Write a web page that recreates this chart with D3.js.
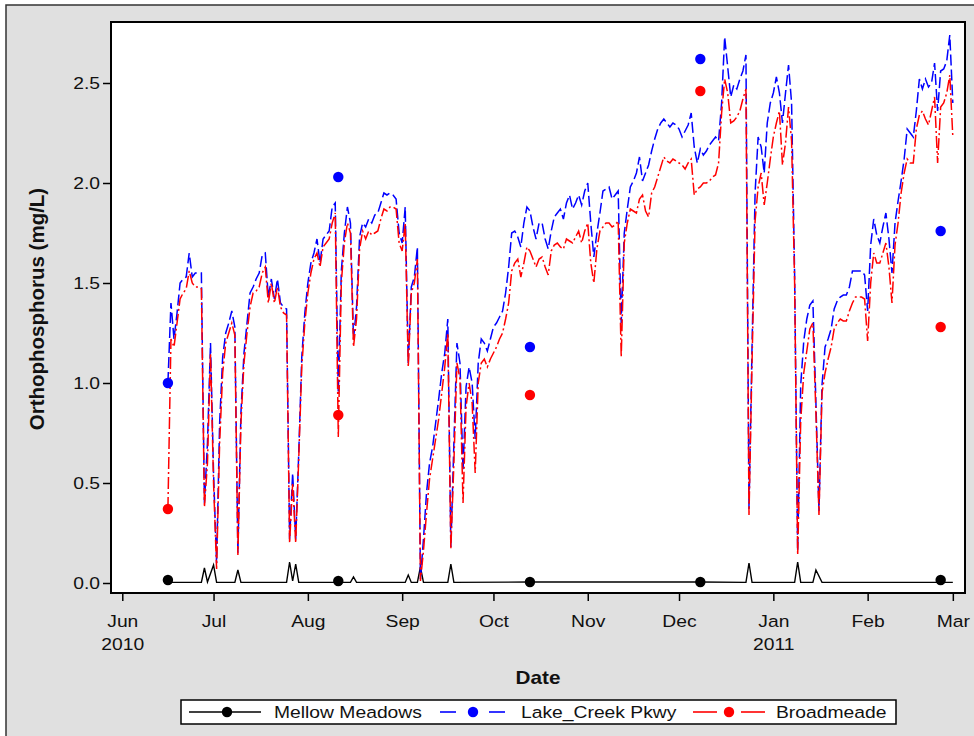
<!DOCTYPE html>
<html><head><meta charset="utf-8">
<script src="https://cdn.jsdelivr.net/npm/d3@7"></script>
<style>body{margin:0;background:#fff}svg{display:block}</style>
</head><body><svg id="c" width="974" height="736"></svg>
<script>
// ---------- DATA ----------
const dates = [
"2010-06-16","2010-06-17","2010-06-18","2010-06-19","2010-06-20","2010-06-21","2010-06-22","2010-06-23","2010-06-24","2010-06-25","2010-06-26","2010-06-27","2010-06-28","2010-06-29","2010-06-30",
"2010-07-01","2010-07-02","2010-07-03","2010-07-04","2010-07-05","2010-07-06","2010-07-07","2010-07-08","2010-07-09","2010-07-10","2010-07-11","2010-07-12","2010-07-13","2010-07-14","2010-07-15","2010-07-16","2010-07-17","2010-07-18","2010-07-19","2010-07-20","2010-07-21","2010-07-22","2010-07-23","2010-07-24","2010-07-25","2010-07-26","2010-07-27","2010-07-28","2010-07-29","2010-07-30","2010-07-31",
"2010-08-01","2010-08-02","2010-08-03","2010-08-04","2010-08-05","2010-08-06","2010-08-07","2010-08-08","2010-08-09","2010-08-10","2010-08-11","2010-08-12","2010-08-13","2010-08-14","2010-08-15","2010-08-16","2010-08-17","2010-08-18","2010-08-19","2010-08-20","2010-08-21","2010-08-22","2010-08-23","2010-08-24","2010-08-25","2010-08-26","2010-08-27","2010-08-28","2010-08-29","2010-08-30","2010-08-31",
"2010-09-01","2010-09-02","2010-09-03","2010-09-04","2010-09-05","2010-09-06","2010-09-07","2010-09-08","2010-09-09","2010-09-10","2010-09-11","2010-09-12","2010-09-13","2010-09-14","2010-09-15","2010-09-16","2010-09-17","2010-09-18","2010-09-19","2010-09-20","2010-09-21","2010-09-22","2010-09-23","2010-09-24","2010-09-25","2010-09-26","2010-09-27","2010-09-28","2010-09-29","2010-09-30",
"2010-10-01","2010-10-02","2010-10-03","2010-10-04","2010-10-05","2010-10-06","2010-10-07","2010-10-08","2010-10-09","2010-10-10","2010-10-11","2010-10-12","2010-10-13","2010-10-14","2010-10-15","2010-10-16","2010-10-17","2010-10-18","2010-10-19","2010-10-20","2010-10-21","2010-10-22","2010-10-23","2010-10-24","2010-10-25","2010-10-26","2010-10-27","2010-10-28","2010-10-29","2010-10-30","2010-10-31",
"2010-11-01","2010-11-02","2010-11-03","2010-11-04","2010-11-05","2010-11-06","2010-11-07","2010-11-08","2010-11-09","2010-11-10","2010-11-11","2010-11-12","2010-11-13","2010-11-14","2010-11-15","2010-11-16","2010-11-17","2010-11-18","2010-11-19","2010-11-20","2010-11-21","2010-11-22","2010-11-23","2010-11-24","2010-11-25","2010-11-26","2010-11-27","2010-11-28","2010-11-29","2010-11-30",
"2010-12-01","2010-12-02","2010-12-03","2010-12-04","2010-12-05","2010-12-06","2010-12-07","2010-12-08","2010-12-09","2010-12-10","2010-12-11","2010-12-12","2010-12-13","2010-12-14","2010-12-15","2010-12-16","2010-12-17","2010-12-18","2010-12-19","2010-12-20","2010-12-21","2010-12-22","2010-12-23","2010-12-24","2010-12-25","2010-12-26","2010-12-27","2010-12-28","2010-12-29","2010-12-30","2010-12-31",
"2011-01-01","2011-01-02","2011-01-03","2011-01-04","2011-01-05","2011-01-06","2011-01-07","2011-01-08","2011-01-09","2011-01-10","2011-01-11","2011-01-12","2011-01-13","2011-01-14","2011-01-15","2011-01-16","2011-01-17","2011-01-18","2011-01-19","2011-01-20","2011-01-21","2011-01-22","2011-01-23","2011-01-24","2011-01-25","2011-01-26","2011-01-27","2011-01-28","2011-01-29","2011-01-30","2011-01-31",
"2011-02-01","2011-02-02","2011-02-03","2011-02-04","2011-02-05","2011-02-06","2011-02-07","2011-02-08","2011-02-09","2011-02-10","2011-02-11","2011-02-12","2011-02-13","2011-02-14","2011-02-15","2011-02-16","2011-02-17","2011-02-18","2011-02-19","2011-02-20","2011-02-21","2011-02-22","2011-02-23","2011-02-24","2011-02-25","2011-02-26","2011-02-27","2011-02-28",
"2011-03-01"];

const lakeCreek = [
1.00,1.40,1.22,1.35,1.50,1.52,1.53,1.65,1.53,1.55,1.55,1.55,0.40,0.70,1.20,
0.55,0.10,0.80,1.13,1.25,1.30,1.36,1.28,0.15,0.85,1.15,1.30,1.45,1.48,1.52,1.55,1.64,1.65,1.43,1.52,1.42,1.52,1.40,1.38,1.37,0.22,0.55,0.22,0.65,1.13,1.35,
1.50,1.60,1.65,1.72,1.60,1.72,1.74,1.76,1.88,1.90,0.95,1.56,1.75,1.88,1.80,1.22,1.38,1.73,1.80,1.78,1.82,1.80,1.84,1.85,1.90,1.95,1.94,1.95,1.94,1.92,1.75,
1.70,1.88,1.10,1.48,1.53,1.68,0.02,0.22,0.45,0.60,0.68,0.80,0.92,1.05,1.15,1.32,0.18,0.70,1.20,1.10,0.56,0.98,1.08,1.00,0.72,1.10,1.22,1.20,1.16,1.22,
1.28,1.30,1.33,1.36,1.45,1.58,1.75,1.76,1.73,1.68,1.80,1.88,1.86,1.78,1.72,1.80,1.80,1.72,1.67,1.76,1.83,1.85,1.87,1.82,1.90,1.94,1.87,1.90,1.94,1.89,1.96,
2.00,1.80,1.63,1.75,1.85,1.96,1.97,1.98,1.92,1.94,1.96,1.30,1.75,1.87,1.98,2.01,2.05,2.13,2.01,2.05,2.09,2.16,2.22,2.27,2.30,2.32,2.30,2.28,2.30,2.29,
2.27,2.23,2.26,2.29,2.35,2.18,2.10,2.17,2.14,2.16,2.19,2.21,2.23,2.21,2.40,2.73,2.58,2.43,2.49,2.47,2.52,2.56,2.64,0.37,1.18,1.95,2.23,2.18,2.05,2.30,2.40,
2.45,2.53,2.45,2.30,2.45,2.59,2.40,1.54,0.16,0.99,1.21,1.32,1.39,1.41,0.90,0.36,0.99,1.18,1.22,1.27,1.37,1.41,1.43,1.44,1.44,1.48,1.56,1.56,1.56,1.56,1.54,
1.36,1.69,1.82,1.74,1.70,1.78,1.85,1.72,1.55,1.80,1.91,2.01,2.12,2.27,2.25,2.23,2.36,2.52,2.47,2.52,2.48,2.50,2.60,2.36,2.56,2.57,2.61,2.74,
2.40];

const broadmeade = [
0.37,1.22,1.18,1.30,1.42,1.45,1.47,1.56,1.50,1.48,1.48,1.47,0.38,0.60,1.15,
0.50,0.07,0.70,1.05,1.20,1.25,1.30,1.24,0.14,0.80,1.10,1.25,1.38,1.45,1.46,1.48,1.55,1.58,1.40,1.50,1.40,1.48,1.38,1.35,1.34,0.20,0.50,0.20,0.62,1.08,1.30,
1.45,1.55,1.62,1.65,1.58,1.68,1.70,1.72,1.80,1.85,0.73,1.50,1.70,1.80,1.75,1.18,1.32,1.67,1.76,1.72,1.76,1.74,1.75,1.76,1.82,1.87,1.86,1.88,1.88,1.87,1.70,
1.66,1.80,1.08,1.45,1.50,1.62,0.01,0.16,0.35,0.52,0.62,0.72,0.82,0.95,1.08,1.25,0.17,0.60,1.10,1.02,0.40,0.88,1.00,0.90,0.55,1.00,1.10,1.12,1.08,1.12,
1.15,1.18,1.22,1.25,1.32,1.40,1.56,1.60,1.62,1.53,1.60,1.68,1.66,1.62,1.58,1.62,1.63,1.58,1.54,1.66,1.69,1.70,1.68,1.67,1.72,1.71,1.70,1.73,1.76,1.70,1.76,
1.80,1.60,1.50,1.67,1.76,1.78,1.80,1.80,1.78,1.79,1.81,1.13,1.70,1.80,1.87,1.86,1.85,1.92,1.94,1.86,1.83,1.95,1.98,2.03,2.08,2.13,2.11,2.10,2.12,2.11,
2.10,2.09,2.07,2.10,2.12,1.94,1.97,1.98,2.00,2.00,2.01,2.03,2.04,2.10,2.35,2.52,2.45,2.30,2.31,2.33,2.36,2.42,2.47,0.34,1.10,1.81,1.98,2.05,1.89,2.00,2.12,
2.23,2.30,2.36,2.09,2.20,2.38,2.21,1.50,0.14,0.81,1.05,1.16,1.27,1.30,0.85,0.34,0.95,1.05,1.12,1.18,1.27,1.30,1.32,1.31,1.31,1.36,1.40,1.43,1.43,1.43,1.42,
1.21,1.50,1.65,1.60,1.60,1.65,1.70,1.58,1.40,1.69,1.80,1.95,2.05,2.12,2.10,2.10,2.27,2.34,2.36,2.32,2.29,2.36,2.43,2.10,2.38,2.40,2.45,2.54,
2.23];

const mellowDates = [
"2010-06-16","2010-06-17","2010-06-27","2010-06-28","2010-06-29","2010-07-01","2010-07-02",
"2010-07-08","2010-07-09","2010-07-10","2010-07-25","2010-07-26","2010-07-27","2010-07-28","2010-07-29",
"2010-08-10","2010-08-11","2010-08-12","2010-08-15","2010-08-16","2010-08-17",
"2010-09-02","2010-09-03","2010-09-04","2010-09-06","2010-09-07","2010-09-08","2010-09-16","2010-09-17","2010-09-18",
"2010-10-13","2010-12-08","2010-12-23","2010-12-24","2010-12-25",
"2011-01-08","2011-01-09","2011-01-10","2011-01-14","2011-01-15","2011-01-17",
"2011-02-24","2011-02-25","2011-02-26","2011-03-01"];
const mellow = [
0.015,0.003,0.003,0.075,0.005,0.09,0.003,
0.003,0.065,0.003,0.003,0.105,0.01,0.095,0.003,
0.003,0.01,0.003,0.003,0.03,0.003,
0.003,0.04,0.003,0.003,0.08,0.003,0.003,0.095,0.003,
0.005,0.005,0.003,0.10,0.003,
0.003,0.105,0.003,0.003,0.065,0.003,
0.003,0.015,0.003,0.003];

const sampleDates = ["2010-06-16","2010-08-11","2010-10-13","2010-12-08","2011-02-25"];
const sampleMellow = [0.015,0.01,0.005,0.005,0.015];
const sampleLake = [1.00,2.03,1.18,2.62,1.76];
const sampleBroad = [0.37,0.84,0.94,2.46,1.28];

const yTicks = [0,0.5,1.0,1.5,2.0,2.5];
const xTickDates = ["2010-06-01","2010-07-01","2010-08-01","2010-09-01","2010-10-01","2010-11-01","2010-12-01","2011-01-01","2011-02-01","2011-03-01"];
const xTickLabels = ["Jun","Jul","Aug","Sep","Oct","Nov","Dec","Jan","Feb","Mar"];
const xTickYears  = ["2010","","","","","","","2011","",""];
const seriesNames = ["Mellow Meadows","Lake_Creek Pkwy","Broadmeade"];
const seriesColors = ["#000000","#0000ff","#ff0000"];

// ---------- DRAW ----------
const W=974,H=736, SX=1.17;
const FONT='"Liberation Sans", Arial, Helvetica, sans-serif';
const L=111,R=965,T=22,B=593;
const parse=d3.timeParse("%Y-%m-%d");
const svg=d3.select("#c").attr("font-family",FONT);

const x=d3.scaleTime().domain([new Date(2010,4,28,7),new Date(2011,2,5,0)]).range([L,R]);
const y=d3.scaleLinear().domain([-0.05,2.805]).range([B,T]);

svg.append("rect").attr("width",W).attr("height",H).attr("fill","#fff");
svg.append("rect").attr("x",6).attr("y",5).attr("width",W+20).attr("height",H+20)
  .attr("fill","#e0e0e0").attr("stroke","#333").attr("stroke-width",1.5);
svg.append("rect").attr("x",L).attr("y",T).attr("width",R-L).attr("height",B-T).attr("fill","#fff");

function txt(g,px,py,s,o={}){
  const sx=o.sx||SX;
  return g.append("text")
    .attr("transform",`translate(${px},${py}) scale(${sx},1)`+(o.rot?` rotate(${o.rot})`:""))
    .attr("text-anchor",o.anchor||"start").attr("font-size",o.size||16.5)
    .attr("font-weight",o.weight||"normal").attr("fill",o.fill||"#111").text(s);
}

// axes
const gy=svg.append("g").attr("transform",`translate(${L},0)`)
  .call(d3.axisLeft(y).tickValues(yTicks).tickSize(8).tickFormat(d3.format(".1f")));
gy.select(".domain").remove();
gy.selectAll(".tick line").attr("stroke","#000").attr("stroke-width",1.5);
gy.selectAll(".tick text").attr("x",0).attr("dy","0.35em")
  .attr("transform",`translate(-11,0) scale(${SX},1)`).attr("font-size",16.5).attr("fill","#111").attr("font-family",FONT);

const gx=svg.append("g").attr("transform",`translate(0,${B})`)
  .call(d3.axisBottom(x).tickValues(xTickDates.map(parse)).tickSize(8).tickFormat((d,i)=>xTickLabels[i]));
gx.select(".domain").remove();
gx.selectAll(".tick line").attr("stroke","#000").attr("stroke-width",1.5);
gx.selectAll(".tick text").attr("y",0).attr("dy",null)
  .attr("transform",`translate(0,34) scale(${SX},1)`).attr("font-size",16.5).attr("fill","#111").attr("font-family",FONT)
  .each(function(d,i){ if(xTickYears[i]) d3.select(this).append("tspan").attr("x",0).attr("dy",23).text(xTickYears[i]); });

// clip
svg.append("clipPath").attr("id","pc").append("rect").attr("x",L).attr("y",T).attr("width",R-L).attr("height",B-T);
const plot=svg.append("g").attr("clip-path","url(#pc)");

const line=d3.line().x(d=>x(d.date)).y(d=>y(d.v));
const toPts=(ds,vs)=>ds.map((d,i)=>({date:parse(d),v:vs[i]}));

plot.append("path").datum(toPts(mellowDates,mellow)).attr("d",line)
  .attr("fill","none").attr("stroke",seriesColors[0]).attr("stroke-width",1.4);
plot.append("path").datum(toPts(dates,lakeCreek)).attr("d",line)
  .attr("fill","none").attr("stroke",seriesColors[1]).attr("stroke-width",1.5).attr("stroke-dasharray","11,4");
plot.append("path").datum(toPts(dates,broadmeade)).attr("d",line)
  .attr("fill","none").attr("stroke",seriesColors[2]).attr("stroke-width",1.5).attr("stroke-dasharray","12,3,2,3");

[[sampleMellow,0],[sampleLake,1],[sampleBroad,2]].forEach(([vals,k])=>{
  plot.selectAll(null).data(toPts(sampleDates,vals)).enter().append("circle")
    .attr("cx",d=>x(d.date)).attr("cy",d=>y(d.v)).attr("r",5.2).attr("fill",seriesColors[k]);
});

// frame
svg.append("rect").attr("x",L).attr("y",T).attr("width",R-L).attr("height",B-T)
  .attr("fill","none").attr("stroke","#000").attr("stroke-width",2);

// titles
txt(svg,538,684,"Date",{anchor:"middle",size:17.7,weight:"bold"});
txt(svg,44,309,"Orthophosphorus (mg/L)",{anchor:"middle",size:20.5,weight:"bold",rot:-90,sx:1.03});

// legend
const lg=svg.append("g");
lg.append("rect").attr("x",181).attr("y",700).attr("width",715).attr("height",24)
  .attr("fill","#fff").attr("stroke","#000").attr("stroke-width",1.5);
const ly=712;
lg.append("line").attr("x1",189).attr("x2",261).attr("y1",ly).attr("y2",ly).attr("stroke",seriesColors[0]).attr("stroke-width",1.4);
lg.append("circle").attr("cx",227).attr("cy",ly).attr("r",5.2).attr("fill",seriesColors[0]);
txt(lg,274,718,seriesNames[0]);
[[440,456],[489,505]].forEach(([a,b])=>lg.append("line").attr("x1",a).attr("x2",b).attr("y1",ly).attr("y2",ly).attr("stroke",seriesColors[1]).attr("stroke-width",1.6));
lg.append("circle").attr("cx",473).attr("cy",ly).attr("r",5.2).attr("fill",seriesColors[1]);
txt(lg,521,718,seriesNames[1]);
[[693,717],[741,765]].forEach(([a,b])=>lg.append("line").attr("x1",a).attr("x2",b).attr("y1",ly).attr("y2",ly).attr("stroke",seriesColors[2]).attr("stroke-width",1.6));
lg.append("circle").attr("cx",729).attr("cy",ly).attr("r",5.2).attr("fill",seriesColors[2]);
txt(lg,776,718,seriesNames[2]);
</script></body></html>
